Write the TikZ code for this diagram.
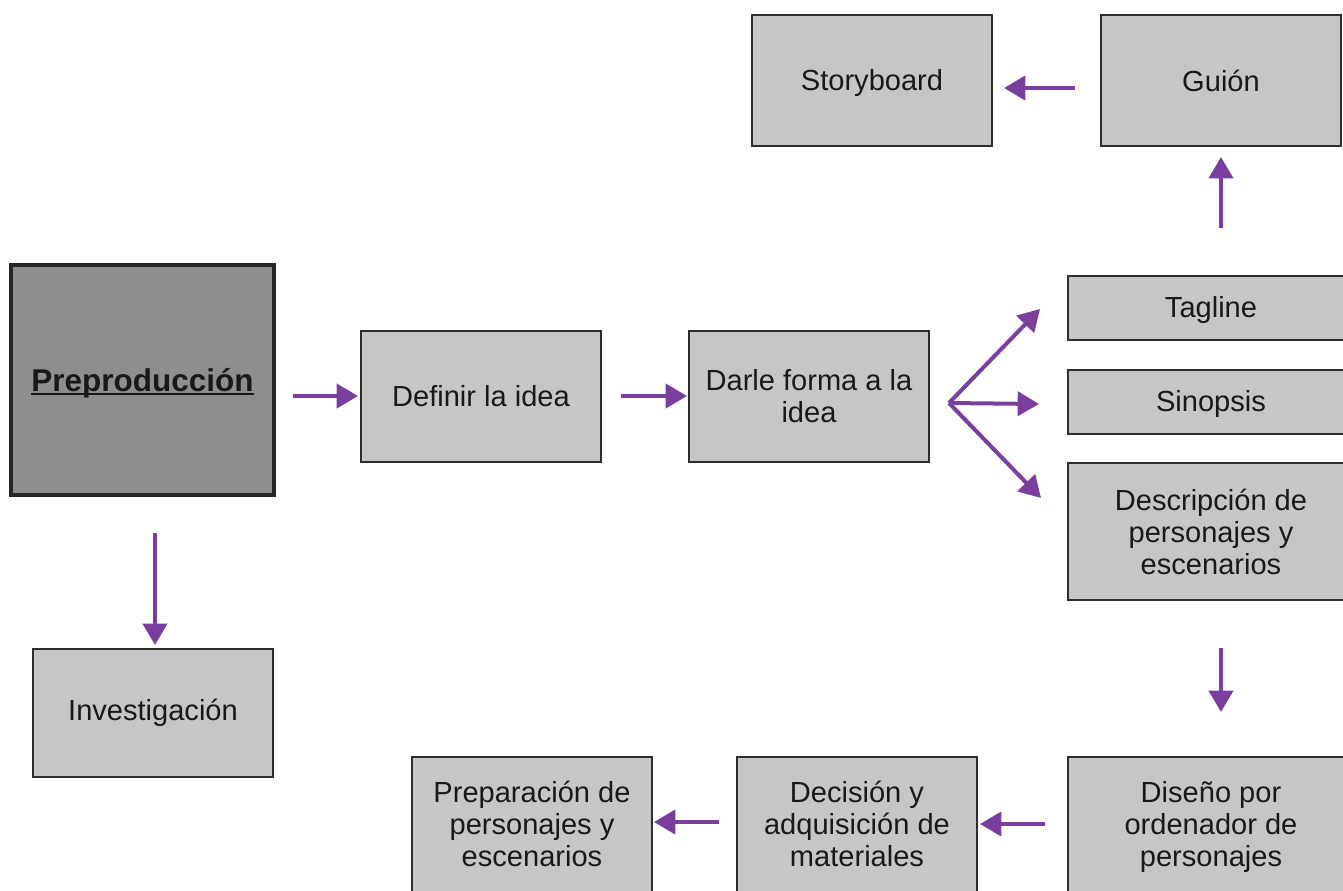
\documentclass[tikz,border=0pt]{standalone}
\usepackage{fontspec}
\setmainfont{Liberation Sans}
\usepackage{tikz}
\usetikzlibrary{arrows.meta,positioning,calc}
\definecolor{flecha}{RGB}{122,62,158}
\definecolor{caja}{RGB}{198,198,198}
\definecolor{cajaosc}{RGB}{142,142,142}
\definecolor{borde}{RGB}{45,45,45}
\newcommand{\subrayado}[1]{\setbox0\hbox{#1}\rlap{\usebox0}\rule[-2.8pt]{\wd0}{1.9pt}}
\newcommand{\bajar}[2]{\raisebox{-#1}[\height][\depth]{#2}}

\begin{document}
\begin{tikzpicture}[x=0.75pt,y=-0.75pt]
		\tikzstyle{paso}=[draw=borde, fill=caja, line width=1.5pt, minimum width=180pt, minimum height=98.25pt, align=center, inner sep=2pt, text=black!90, font=\fontsize{21.8}{24}\selectfont]
		\tikzstyle{ancho}=[minimum width=214.5pt]
		\tikzstyle{flechita}=[color=flecha, line width=3pt, -{Triangle[length=16pt,width=18pt]}]
		
		\useasboundingbox (0,0) rectangle (1343,890);
		\clip (0,0) rectangle (1343,890);
		
		\node[paso, fill=cajaosc, draw=black!85, line width=3pt, minimum width=197.25pt, minimum height=172.5pt, font=\fontsize{23.6}{26}\selectfont\bfseries] (prepro) at (142.5, 380) {\bajar{2.6pt}{\subrayado{Preproducción}}};
		\node[paso]                                    (definir)    at (481, 396)   {Definir la idea};
		\node[paso]                                    (darle)      at (809, 396)   {Darle forma a la\\idea};
		\node[paso, ancho, minimum height=48pt]        (tagline)    at (1211, 308)  {\bajar{1.2pt}{Tagline}};
		\node[paso, ancho, minimum height=48pt]        (sinopsis)   at (1211, 402)  {\bajar{1.2pt}{Sinopsis}};
		\node[paso, ancho, minimum height=102.75pt]    (desc)       at (1211, 531.5){Descripción de\\personajes y\\escenarios};
		\node[paso]                                    (guion)      at (1221, 80.5) {Guión};
		\node[paso]                                    (storyboard) at (872, 80.5)  {\bajar{1.5pt}{Storyboard}};
		\node[paso, minimum height=96pt]               (invest)     at (153, 713)   {Investigación};
		\node[paso, ancho, minimum height=103.5pt]     (diseno)     at (1211, 826)  {\bajar{1.9pt}{\begin{tabular}{@{}c@{}}Diseño por\\ordenador de\\personajes\end{tabular}}};
		\node[paso, minimum height=103.5pt]            (decision)   at (857, 826)   {\bajar{1.9pt}{\begin{tabular}{@{}c@{}}Decisión y\\adquisición de\\materiales\end{tabular}}};
		\node[paso, minimum height=103.5pt]            (prep)       at (532, 826)   {\bajar{1.9pt}{\begin{tabular}{@{}c@{}}Preparación de\\personajes y\\escenarios\end{tabular}}};
		
		\coordinate (abanico) at ($(darle.east)+(19,7)$);
		
		\path[flechita]
		(prepro.east |- definir.west) edge [shorten <=12.75pt, shorten >=1.5pt] (definir.west)
		(definir.east) edge [shorten <=14pt, shorten >=0.75pt] (darle.west)
		
		(abanico) edge ($(tagline.west)+(-27,1)$)
		(abanico) edge ($(sinopsis.west)+(-28,2)$)
		(abanico) edge ($(desc.west)+(-26,-33.5)$)
		
		(guion.south |- tagline.north) edge [shorten <=35.25pt, shorten >=7.5pt] (guion.south)
		($(guion.west)+(0,7.5)$) edge [shorten <=18.75pt, shorten >=8.25pt] ($(storyboard.east)+(0,7.5)$)
		
		($(invest.north |- prepro.south)+(2,0)$) edge [shorten <=27pt, shorten >=2.25pt] ($(invest.north)+(2,0)$)
		
		($(desc.south)+(10,0)$) edge [shorten <=35.25pt, shorten >=33pt] ($(diseno.north)+(10,0)$)
		($(diseno.west)+(0,-2)$) edge [shorten <=16.5pt, shorten >=1.5pt] ($(decision.east)+(0,-2)$)
		($(decision.west)+(0,-4)$) edge [shorten <=12.75pt, shorten >=0.75pt] ($(prep.east)+(0,-4)$)
		;
\end{tikzpicture}
\end{document}
